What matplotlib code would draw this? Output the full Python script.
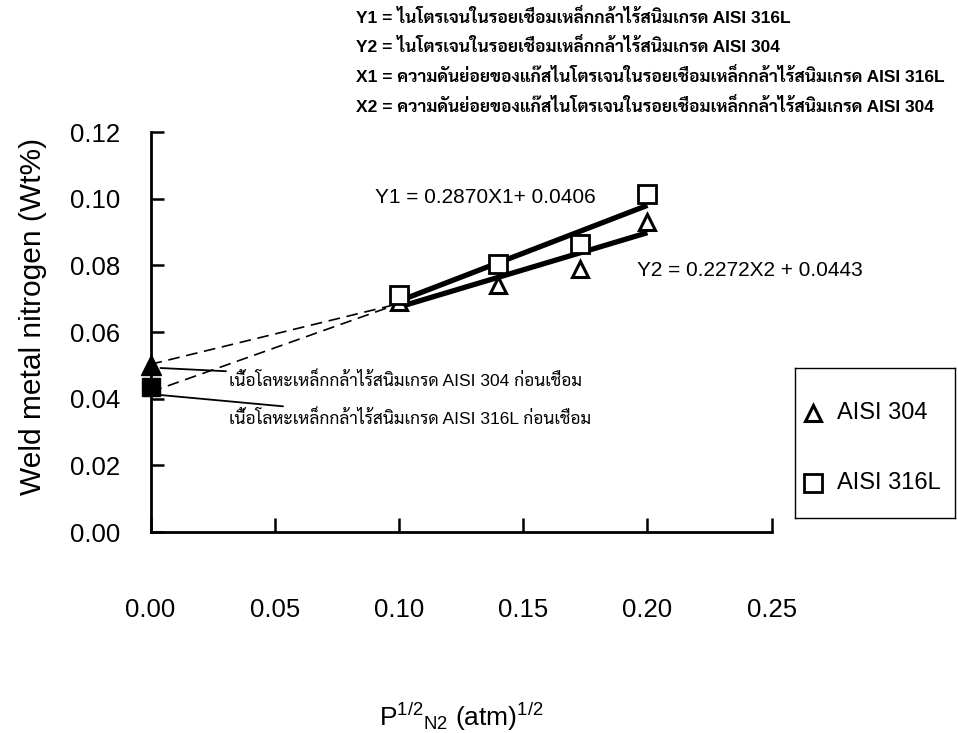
import matplotlib
matplotlib.use("Agg")
import matplotlib.pyplot as plt

plt.rcParams['font.family'] = ['Liberation Sans', 'Sarabun', 'Noto Sans Thai']
plt.rcParams['mathtext.fontset'] = 'custom'
plt.rcParams['mathtext.rm'] = 'Liberation Sans'
plt.rcParams['mathtext.it'] = 'Liberation Sans'

# measured points, sqrt(P_N2) in atm^1/2 vs weld metal N in wt%
x_pts = [0.10, 0.14, 0.173, 0.20]
n_304 = [0.069, 0.0742, 0.079, 0.093]
n_316 = [0.0711, 0.0805, 0.0865, 0.1013]

# base metal before welding (x = 0)
x_base = [0.0]
base_304 = [0.050]
base_316 = [0.0435]

# regression lines as drawn
fit_x = [0.10, 0.20]
fit_316 = [0.0693, 0.0980]
fit_304 = [0.0675, 0.0898]

# dashed extrapolation down to the base metal
dash_x = [0.0, 0.10]
dash_304 = [0.0503, 0.0685]
dash_316 = [0.0420, 0.0685]

x_ticks = [0.00, 0.05, 0.10, 0.15, 0.20, 0.25]
y_ticks = [0.00, 0.02, 0.04, 0.06, 0.08, 0.10, 0.12]
legend_labels = ['AISI 304', 'AISI 316L']

W, H = 958, 733
fig = plt.figure(figsize=(W / 100, H / 100), dpi=100)
ax = fig.add_axes([0.1571, 0.2742, 0.6484, 0.5457])

ax.plot(dash_x, dash_304, color='black', lw=1.2, ls=(0, (7, 4)))
ax.plot(dash_x, dash_316, color='black', lw=1.2, ls=(0, (7, 4)))
ax.plot(fit_x, fit_316, color='black', lw=3.8, solid_capstyle='butt')
ax.plot(fit_x, fit_304, color='black', lw=3.8, solid_capstyle='butt')

mk_304 = dict(ls='none', marker='^', ms=12, mfc='white', mec='black', mew=2.2)
mk_316 = dict(ls='none', marker='s', ms=13, mfc='white', mec='black', mew=2.0)
ax.plot(x_pts, n_304, **mk_304)
ax.plot(x_pts, n_316, **mk_316)
ax.plot(x_base, base_304, ls='none', marker='^', ms=14, color='black', clip_on=False)
ax.plot(x_base, base_316, ls='none', marker='s', ms=13, color='black', clip_on=False)

ax.set_xlim(0, 0.25)
ax.set_ylim(0, 0.12)
ax.set_xticks(x_ticks)
ax.set_yticks(y_ticks)
ax.set_xticklabels(['%.2f' % v for v in x_ticks])
ax.set_yticklabels(['%.2f' % v for v in y_ticks])
ax.tick_params(axis='x', direction='in', length=10, width=1.8, pad=47.5, labelsize=18.5)
ax.tick_params(axis='y', direction='in', length=9.5, width=1.8, pad=22, labelsize=18.5)

for s in ['top', 'right']:
    ax.spines[s].set_visible(False)
for s in ['left', 'bottom']:
    ax.spines[s].set_linewidth(2.0)

ax.set_ylabel('Weld metal nitrogen (Wt%)', fontsize=21.5)
ax.yaxis.set_label_coords(-0.166, 0.54)
ax.set_xlabel(r'P$^{1/2}$$_{\mathrm{N2}}$ (atm)$^{1/2}$', fontsize=19)
ax.xaxis.set_label_coords(0.5, -0.423)

ax.text(0.0903, 0.1005, 'Y1 = 0.2870X1+ 0.0406', fontsize=15, va='center')
ax.text(0.196, 0.0786, 'Y2 = 0.2272X2 + 0.0443', fontsize=15, va='center')

ax.annotate('เนื้อโลหะเหล็กกล้าไร้สนิมเกรด AISI 304 ก่อนเชื่อม',
            xy=(0.004, 0.0492), xytext=(0.0315, 0.0456),
            fontsize=12.5, va='center',
            arrowprops=dict(arrowstyle='-', color='black', lw=1.3,
                            shrinkA=0, shrinkB=0))
ax.annotate('เนื้อโลหะเหล็กกล้าไร้สนิมเกรด AISI 316L ก่อนเชื่อม',
            xy=(0.004, 0.0411), xytext=(0.0315, 0.0342),
            fontsize=12.5, va='center',
            arrowprops=dict(arrowstyle='-', color='black', lw=1.3,
                            shrinkA=0, shrinkB=0))

# legend box drawn in its own pixel-based axes
lx0, ly0, lw_, lh_ = 795, 368, 160, 150
lax = fig.add_axes([lx0 / W, 1 - (ly0 + lh_) / H, lw_ / W, lh_ / H])
lax.set_xlim(0, lw_)
lax.set_ylim(lh_, 0)
lax.set_xticks([])
lax.set_yticks([])
for s in lax.spines.values():
    s.set_linewidth(1.0)
lax.plot([18], [45], **mk_304)
lax.plot([18], [115], **mk_316)
lax.text(42, 45, legend_labels[0], fontsize=17, va='center')
lax.text(42, 115, legend_labels[1], fontsize=17, va='center')

top_lines = [
    'Y1 = ไนโตรเจนในรอยเชื่อมเหล็กกล้าไร้สนิมเกรด AISI 316L',
    'Y2 = ไนโตรเจนในรอยเชื่อมเหล็กกล้าไร้สนิมเกรด AISI 304',
    'X1 = ความดันย่อยของแก๊สไนโตรเจนในรอยเชื่อมเหล็กกล้าไร้สนิมเกรด AISI 316L',
    'X2 = ความดันย่อยของแก๊สไนโตรเจนในรอยเชื่อมเหล็กกล้าไร้สนิมเกรด AISI 304',
]
for i, t in enumerate(top_lines):
    fig.text(356 / W, 1 - (17 + 29.5 * i) / H, t, fontsize=12.5,
             fontweight='bold', va='center', ha='left')

fig.savefig('out.png', dpi=100)
